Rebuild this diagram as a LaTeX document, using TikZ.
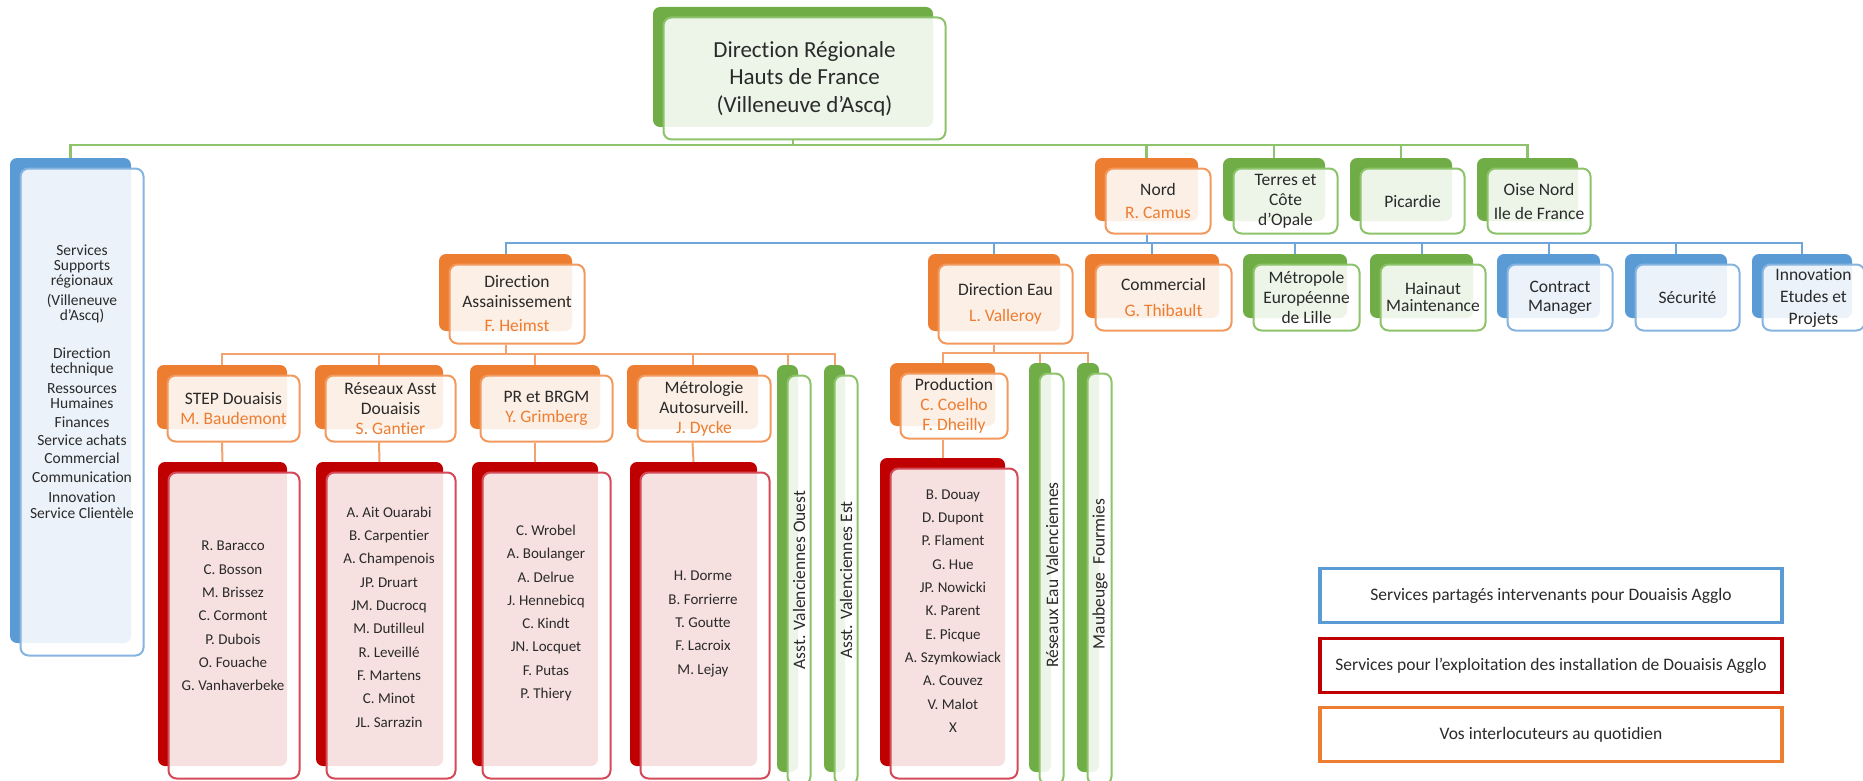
\documentclass[tikz,border=0pt]{standalone}
\usepackage{fontspec}
\setmainfont{Carlito}[Ligatures=NoCommon]
\definecolor{gr}{HTML}{70AD47}\definecolor{grL}{HTML}{8DC36B}
\definecolor{or}{HTML}{ED7D31}\definecolor{orL}{HTML}{F29A5E}
\definecolor{bl}{HTML}{5B9BD5}\definecolor{blL}{HTML}{86B4E0}
\definecolor{rd}{HTML}{C00000}\definecolor{rdL}{HTML}{D44A58}
\definecolor{txt}{HTML}{2A2A2A}
\definecolor{orLine}{HTML}{F2A26E}
\definecolor{blLine}{HTML}{6FA6DA}

\newcommand\topfont{\fontsize{23}{27.5}\selectfont}
\newcommand\rowfont{\fontsize{17.5}{20}\selectfont}
\newcommand\namefont{\fontsize{15}{23.3}\selectfont}
\newcommand\svcfont{\fontsize{15.5}{15}\selectfont}
\newcommand\legfont{\fontsize{17.5}{20}\selectfont}
\newcommand\nm[1]{\textcolor{or}{#1}}

% Org-chart box: a solid back plate and a translucent white front card
% #1 name, #2 colour, #3-#6 back plate corners (x1,y1,x2,y2), #7 text
\newcommand\ob[7]{%
  \pgfmathsetmacro\obW{#5-#3}\pgfmathsetmacro\obH{#6-#4}%
  \pgfmathsetmacro\obFW{#5-#3+2}\pgfmathsetmacro\obFH{#6-#4+2}%
  \pgfmathsetmacro\obX{(#3+#5)/2}\pgfmathsetmacro\obY{(#4+#6)/2}%
  \pgfmathsetmacro\obFX{\obX+11.5}\pgfmathsetmacro\obFY{\obY+11.5}%
  \node[bk=#2,minimum width=\obW pt,minimum height=\obH pt] (#1b) at (\obX,\obY) {};
  \node[fr=#2,minimum width=\obFW pt,minimum height=\obFH pt,card #1/.try] (#1) at (\obFX,\obFY) {#7};%
}

\tikzset{
  bk/.style={draw=none,fill=#1,rounded corners=7pt,inner sep=0pt},
  fr/.style={draw=#1L,line width=2pt,fill=white,fill opacity=0.88,text opacity=1,
    rounded corners=8pt,inner sep=0pt,align=center,text=txt,font=\rowfont},
  card top/.style={font=\topfont},
  gline/.style={draw=grL,line width=2.4pt},
  bline/.style={draw=blLine,line width=2pt},
  oline/.style={draw=orLine,line width=2pt},
  names/.style={align=center,text=txt,font=\namefont,inner sep=0pt},
  vlabel/.style={rotate=90,text=txt,font=\rowfont,inner sep=0pt},
  legend/.style={draw=#1,line width=3.5pt,fill=white,minimum width=462pt,
    minimum height=54pt,inner sep=0pt,text=txt,font=\legfont},
}

\begin{document}
\begin{tikzpicture}[x=1pt,y=-1pt]
\useasboundingbox (0,0) rectangle (1863,781);

% bus levels
\coordinate (busA) at (0,145);
\coordinate (busB) at (0,243);
\coordinate (busC) at (0,354);
\coordinate (busD) at (0,353);

% ---------- boxes ----------
\ob{top}{gr}{653}{7}{933}{127}{Direction Régionale\\Hauts de France\\(Villeneuve d’Ascq)}
\ob{svc}{bl}{10}{158}{131}{643}{}
\node[align=center,text=txt,font=\svcfont,inner sep=0pt] (svct) at (82,382)
  {Services\\Supports\\régionaux\\[5pt](Villeneuve\\d’Ascq)\\[23pt]Direction\\technique\\[5pt]Ressources\\Humaines\\[4pt]Finances\\[3pt]Service achats\\[3pt]Commercial\\[4pt]Communication\\[5pt]Innovation\\[1pt]Service Clientèle};

\ob{nord}{or}{1095}{158}{1198}{221}{Nord\\[3pt]\nm{R. Camus}}
\ob{terres}{gr}{1223}{158}{1325}{221}{Terres et\\Côte\\d’Opale}
\ob{pic}{gr}{1350}{158}{1452}{221}{Picardie}
\ob{oise}{gr}{1477}{158}{1578}{221}{Oise Nord\\[4pt]Ile de France}

\ob{ass}{or}{439}{254}{572}{331}{Direction\\Assainissement\\[4pt]\nm{F. Heimst}}
\ob{eau}{or}{928}{254}{1060}{331}{Direction Eau\\[6pt]\nm{L. Valleroy}}
\ob{com}{or}{1085}{254}{1219}{318}{Commercial\\[6pt]\nm{G. Thibault}}
\ob{mel}{gr}{1243}{254}{1347}{318}{Métropole\\Européenne\\de Lille}
\ob{hai}{gr}{1370}{254}{1473}{318}{Hainaut\\[-3pt]Maintenance}
\ob{con}{bl}{1497}{254}{1600}{318}{Contract\\[-1pt]Manager}
\ob{sec}{bl}{1625}{254}{1727}{318}{Sécurité}
\ob{inn}{bl}{1752}{254}{1852}{318}{Innovation\\[2pt]Etudes et\\[2pt]Projets}

\ob{step}{or}{157}{365}{287}{429}{STEP Douaisis\\\nm{M. Baudemont}}
\ob{res}{or}{315}{365}{443}{429}{Réseaux Asst\\Douaisis\\\nm{S. Gantier}}
\ob{prb}{or}{470}{365}{600}{429}{PR et BRGM\\\nm{Y. Grimberg}}
\ob{metro}{or}{627}{365}{758}{429}{Métrologie\\Autosurveill.\\\nm{J. Dycke}}
\ob{vo}{gr}{777}{365}{798}{772}{}
\ob{ve}{gr}{824}{365}{845}{772}{}
\ob{prod}{or}{890}{363}{995}{426}{Production\\\nm{C. Coelho}\\\nm{F. Dheilly}}
\ob{reau}{gr}{1029}{363}{1051}{772}{}
\ob{maub}{gr}{1077}{363}{1099}{772}{}

\node[vlabel] (vot) at (vo) {Asst. Valenciennes Ouest};
\node[vlabel] (vet) at (ve) {Asst. Valenciennes Est};
\node[vlabel] (reaut) at (1052,575) {Réseaux Eau Valenciennes};
\node[vlabel] (maubt) at (1100,574) {Maubeuge\ \ Fourmies};

\ob{na}{rd}{158}{462}{287}{766}{}
\ob{nb}{rd}{316}{462}{443}{766}{}
\ob{nc}{rd}{472}{462}{598}{766}{}
\ob{nd}{rd}{630}{462}{757}{766}{}
\ob{ne}{rd}{880}{458}{1005}{766}{}

\node[names] (nat) at (233,616) {R. Baracco\\C. Bosson\\M. Brissez\\C. Cormont\\P. Dubois\\O. Fouache\\G. Vanhaverbeke};
\node[names] (nbt) at (389,617) {A. Ait Ouarabi\\B. Carpentier\\A. Champenois\\JP. Druart\\JM. Ducrocq\\M. Dutilleul\\R. Leveillé\\F. Martens\\C. Minot\\JL. Sarrazin};
\node[names] (nct) at (546,613) {C. Wrobel\\A. Boulanger\\A. Delrue\\J. Hennebicq\\C. Kindt\\JN. Locquet\\F. Putas\\P. Thiery};
\node[names] (ndt) at (703,624) {H. Dorme\\B. Forrierre\\T. Goutte\\F. Lacroix\\M. Lejay};
\node[names] (net) at (953,611) {B. Douay\\D. Dupont\\P. Flament\\G. Hue\\JP. Nowicki\\K. Parent\\E. Picque\\A. Szymkowiack\\A. Couvez\\V. Malot\\X};

% ---------- connectors ----------
\draw[gline] (topb.center |- top.south) -- (topb.center |- busA);
\draw[gline] (svcb.north) -- (svcb.north |- busA) -| (oiseb.north);
\draw[gline] (nordb.north) -- (nordb.north |- busA);
\draw[gline] (terresb.north) -- (terresb.north |- busA);
\draw[gline] (picb.north) -- (picb.north |- busA);

\draw[bline] (nordb.center |- nord.south) -- (nordb.center |- busB);
\draw[bline] (assb.north) -- (assb.north |- busB) -| (innb.north);
\draw[bline] (eaub.north) -- (eaub.north |- busB);
\draw[bline] (comb.north) -- (comb.north |- busB);
\draw[bline] (melb.north) -- (melb.north |- busB);
\draw[bline] (haib.north) -- (haib.north |- busB);
\draw[bline] (conb.north) -- (conb.north |- busB);
\draw[bline] (secb.north) -- (secb.north |- busB);

\draw[oline] (assb.center |- ass.south) -- (assb.center |- busC);
\draw[oline] (stepb.north) -- (stepb.north |- busC) -| (veb.north);
\draw[oline] (resb.north) -- (resb.north |- busC);
\draw[oline] (prbb.north) -- (prbb.north |- busC);
\draw[oline] (metrob.north) -- (metrob.north |- busC);
\draw[oline] (vob.north) -- (vob.north |- busC);

\draw[oline] (eaub.center |- eau.south) -- (eaub.center |- busD);
\draw[oline] (prodb.north) -- (prodb.north |- busD) -| (maubb.north);
\draw[oline] (reaub.north) -- (reaub.north |- busD);

\draw[oline] (stepb.center |- step.south) -- (nab.north);
\draw[oline] (resb.center |- res.south) -- (nbb.north);
\draw[oline] (prbb.center |- prb.south) -- (ncb.north);
\draw[oline] (metrob.center |- metro.south) -- (ndb.north);
\draw[oline] (prodb.center |- prod.south) -- (neb.north);

% ---------- legend ----------
\node[legend=bl] (lega) at (1551,595.5) {Services partagés intervenants pour Douaisis Agglo};
\node[legend=rd] (legb) at (1551,665.5) {Services pour l’exploitation des installation de Douaisis Agglo};
\node[legend=or] (legc) at (1551,734.5) {Vos interlocuteurs au quotidien};
\end{tikzpicture}
\end{document}
